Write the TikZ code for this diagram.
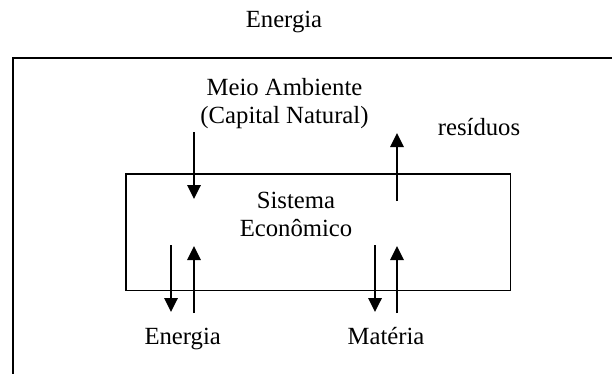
\documentclass[tikz,border=0pt]{standalone}
\usepackage{fontspec}
\setmainfont{Liberation Serif}
\usetikzlibrary{arrows.meta}
\tikzset{
  lbl/.style={inner sep=0pt, anchor=base, font=\fontsize{24.7bp}{28.5bp}\selectfont, align=center},
  frame/.style={line width=1.8bp, draw=black},
  flow/.style={line width=1.8bp, -{Triangle[width=13.5bp,length=14bp]}}
}
\begin{document}
\begin{tikzpicture}[x=1bp, y=-1bp]
\useasboundingbox (0,0) rectangle (612,373);
% outer environment frame (open to right and bottom)
\coordinate (ftr) at (613,58.3);
\coordinate (ftl) at (13.3,58.3);
\coordinate (fbl) at (13.3,374);
\draw[frame] (ftr) -- (ftl) -- (fbl);
% economic system box
\node[frame, rectangle, minimum width=384.5bp, minimum height=116.5bp, inner sep=0pt] (eco) at (318.25,232.25) {};
% labels (multi-line nodes: base = baseline of last line)
\node[lbl] (etop) at (284,27) {Energia};
\node[lbl] (meio) at (284.5,123.5) {Meio Ambiente\\(Capital Natural)};
\node[lbl] (res) at (479,135) {resíduos};
\node[lbl] (sis) at (296,236.7) {Sistema\\Econômico};
\node[lbl] (ener) at (182.7,344) {Energia};
\node[lbl] (mat) at (386,344) {Matéria};
% arrow end points
\coordinate (a1s) at (194,132);   \coordinate (a1e) at (194,199);
\coordinate (a2s) at (397,201);   \coordinate (a2e) at (397,133);
\coordinate (a3s) at (171,245);   \coordinate (a3e) at (171,312);
\coordinate (a4s) at (194,313);   \coordinate (a4e) at (194,246);
\coordinate (a5s) at (375,245);   \coordinate (a5e) at (375,312);
\coordinate (a6s) at (397,313);   \coordinate (a6e) at (397,246);
\draw[flow] (a1s) -- (a1e);
\draw[flow] (a2s) -- (a2e);
\draw[flow] (a3s) -- (a3e);
\draw[flow] (a4s) -- (a4e);
\draw[flow] (a5s) -- (a5e);
\draw[flow] (a6s) -- (a6e);
\end{tikzpicture}
\end{document}
